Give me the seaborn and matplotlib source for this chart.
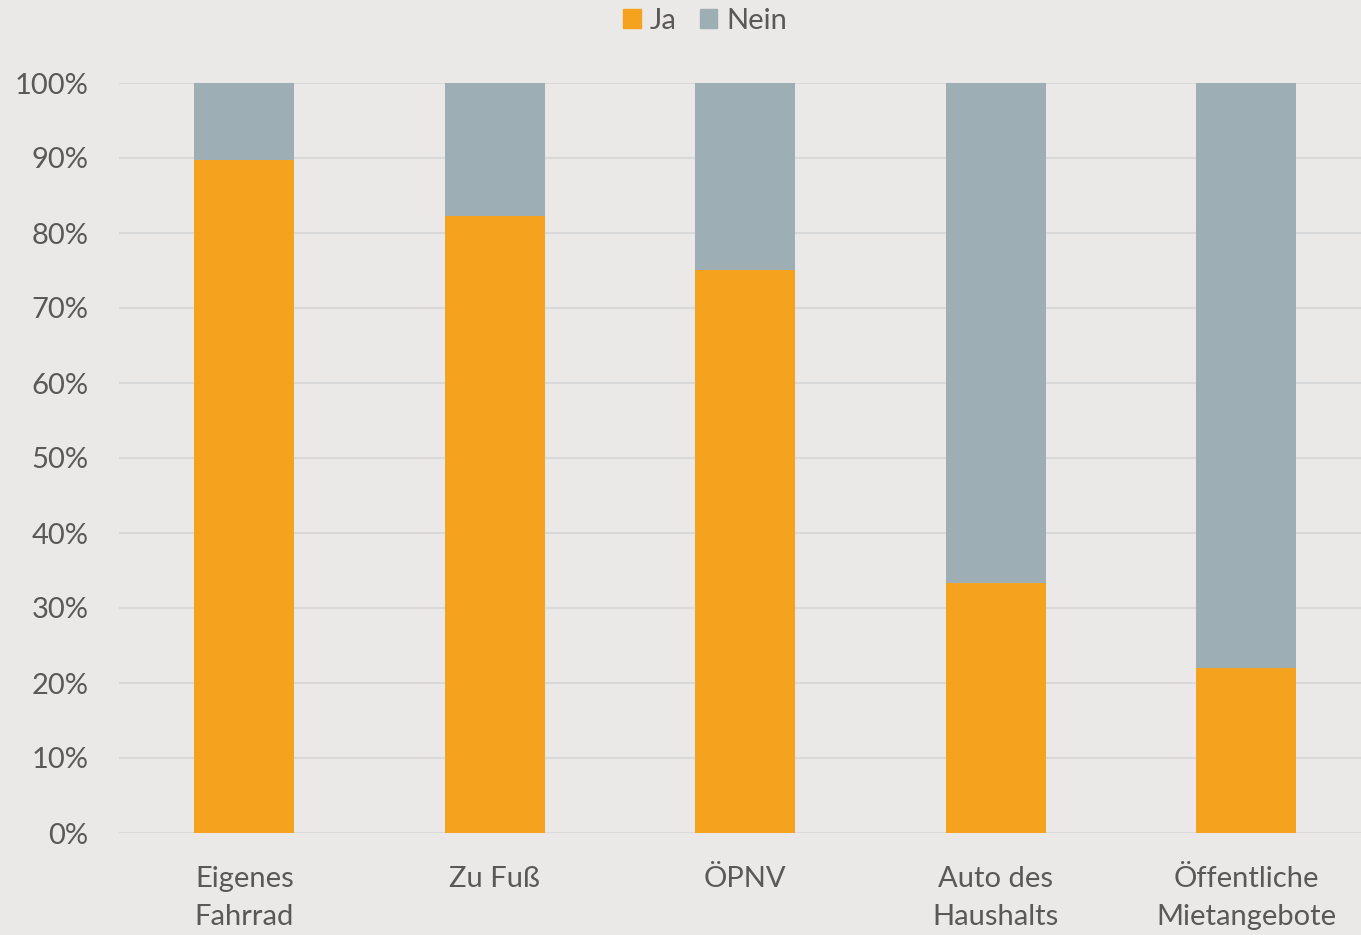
import matplotlib
matplotlib.use('Agg')
import matplotlib.pyplot as plt
import seaborn as sns
import pandas as pd
from matplotlib.ticker import PercentFormatter
from matplotlib.patches import Patch

# dati
kategorien = ['Eigenes\nFahrrad', 'Zu Fuß', 'ÖPNV', 'Auto des\nHaushalts', 'Öffentliche\nMietangebote']
ja = [0.898, 0.823, 0.751, 0.334, 0.220]
nein = [1 - v for v in ja]

farbe_ja = '#F5A31F'
farbe_nein = '#9DAFB4'
sfondo = '#EBE9E7'
testo = '#595959'

df = pd.DataFrame({'kategorie': kategorien, 'ja': ja, 'nein': nein})
df['gesamt'] = df['ja'] + df['nein']

sns.set_theme(style='whitegrid')
plt.rcParams['font.family'] = ['Lato', 'DejaVu Sans']

fig = plt.figure(figsize=(13.61, 9.35), dpi=100, facecolor=sfondo)
ax = fig.add_axes([119 / 1361, 1 - 833 / 935, 1252.5 / 1361, 750 / 935])
ax.set_facecolor(sfondo)

# barre impilate: prima il totale (Nein), poi Ja sopra
sns.barplot(data=df, x='kategorie', y='gesamt', color=farbe_nein, width=0.4,
            saturation=1, linewidth=0, ax=ax, zorder=2)
sns.barplot(data=df, x='kategorie', y='ja', color=farbe_ja, width=0.4,
            saturation=1, linewidth=0, ax=ax, zorder=3)

ax.set_ylim(0, 1)
ax.set_yticks([i / 10 for i in range(11)])
ax.yaxis.set_major_formatter(PercentFormatter(1.0, decimals=0))
ax.set_xlim(-0.5, 4.5)
ax.set_xlabel('')
ax.set_ylabel('')
ax.grid(axis='y', color='#D9D9D9', linewidth=1.5, zorder=0)
ax.grid(axis='x', visible=False)
for s in ax.spines.values():
    s.set_visible(False)
ax.tick_params(axis='y', labelsize=21, labelcolor=testo, pad=22, length=0)
ax.tick_params(axis='x', labelsize=21, labelcolor=testo, pad=24, length=0)
for lab in ax.get_xticklabels():
    lab.set_linespacing(1.55)

handles = [Patch(color=farbe_ja, label='Ja'), Patch(color=farbe_nein, label='Nein')]
fig.legend(handles=handles, loc='center', bbox_to_anchor=(0.518, 0.978), ncol=2,
           frameon=False, fontsize=21, labelcolor=testo, handlelength=0.6,
           handleheight=0.6, handletextpad=0.3, columnspacing=0.8)

fig.savefig('out.png', dpi=100, facecolor=sfondo)
